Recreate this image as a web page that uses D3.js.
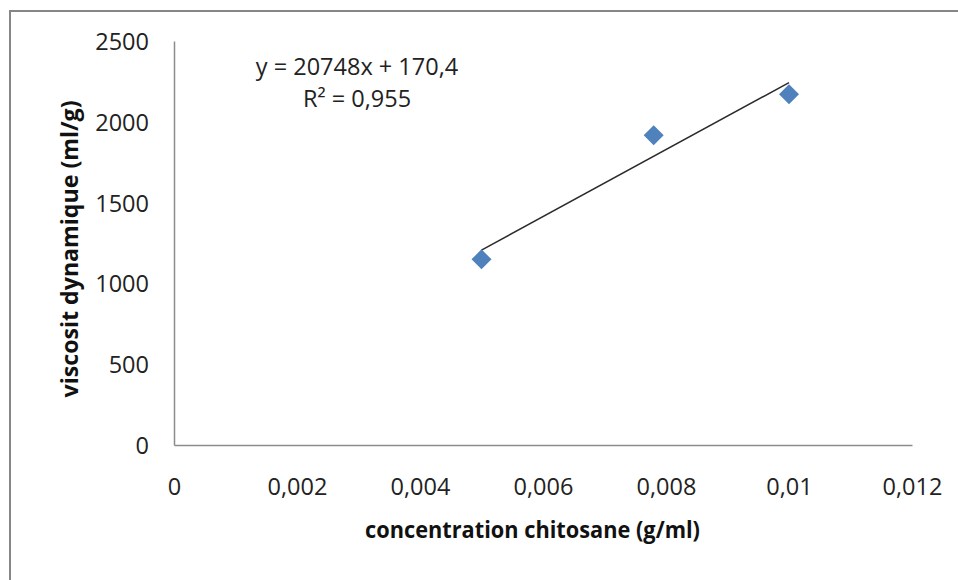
<!DOCTYPE html>
<html>
<head>
<meta charset="utf-8">
<script src="https://cdn.jsdelivr.net/npm/d3@7"></script>
<style>
  body { margin: 0; background: #fff; }
  svg { display: block; font-family: "Open Sans", sans-serif; }
</style>
</head>
<body>
<svg id="chart" width="958" height="580"></svg>
<script>
// values
const concentration = [0.005, 0.0078, 0.01];
const viscosity = [1149, 1916, 2170];
const xTicks = [0, 0.002, 0.004, 0.006, 0.008, 0.01, 0.012];
const xTickLabels = ["0", "0,002", "0,004", "0,006", "0,008", "0,01", "0,012"];
const yTicks = [0, 500, 1000, 1500, 2000, 2500];
const yTickLabels = ["0", "500", "1000", "1500", "2000", "2500"];
const equationText = "y = 20748x + 170,4";
const r2Text = "R² = 0,955";
const xTitle = "concentration chitosane (g/ml)";
const yTitle = "viscosit dynamique (ml/g)";

const svg = d3.select("#chart");
const plot = { left: 174, right: 912, top: 41, bottom: 445 };

const x = d3.scaleLinear().domain([0, 0.012]).range([plot.left, plot.right]);
const y = d3.scaleLinear().domain([0, 2500]).range([plot.bottom, plot.top]);

// outer chart border (runs off the right and bottom of the picture)
svg.append("rect")
    .attr("x", 10).attr("y", 11)
    .attr("width", 1000).attr("height", 600)
    .attr("fill", "none")
    .attr("stroke", "#868686")
    .attr("stroke-width", 2);

// axes: plain gray lines, no tick marks
const xAxis = svg.append("g")
    .attr("transform", "translate(0," + plot.bottom + ")")
    .call(d3.axisBottom(x).tickValues(xTicks).tickSize(0)
        .tickFormat((d, i) => xTickLabels[i]));
xAxis.select(".domain").attr("stroke", "#8c8c8c").attr("stroke-width", 1.5);
xAxis.selectAll("text")
    .attr("dy", null).attr("y", 50)
    .attr("fill", "#222").attr("font-size", 23.5).attr("font-family", "Open Sans");

const yAxis = svg.append("g")
    .attr("transform", "translate(" + plot.left + ",0)")
    .call(d3.axisLeft(y).tickValues(yTicks).tickSize(0)
        .tickFormat((d, i) => yTickLabels[i]));
yAxis.select(".domain").attr("stroke", "#8c8c8c").attr("stroke-width", 1.5);
yAxis.selectAll("text")
    .attr("x", -25).attr("dy", "0.36em")
    .attr("fill", "#222").attr("font-size", 23.5).attr("font-family", "Open Sans");

// linear trendline (least squares over the points)
const mx = d3.mean(concentration), my = d3.mean(viscosity);
const sxy = d3.sum(concentration, (c, i) => (c - mx) * (viscosity[i] - my));
const sxx = d3.sum(concentration, c => (c - mx) * (c - mx));
const slope = sxy / sxx;
const intercept = my - slope * mx;
const xExt = d3.extent(concentration);

svg.append("line")
    .attr("x1", x(xExt[0])).attr("y1", y(slope * xExt[0] + intercept))
    .attr("x2", x(xExt[1])).attr("y2", y(slope * xExt[1] + intercept))
    .attr("stroke", "#2b2b2b")
    .attr("stroke-width", 1.5);

// diamond markers
svg.selectAll("path.point")
    .data(concentration)
    .enter()
    .append("path")
    .attr("class", "point")
    .attr("d", d3.symbol().type(d3.symbolSquare).size(200))
    .attr("transform", (d, i) => "translate(" + x(d) + "," + y(viscosity[i]) + ") rotate(45)")
    .attr("fill", "#4f81bd");

// trendline label
svg.append("text")
    .attr("x", 357).attr("y", 75)
    .attr("text-anchor", "middle")
    .attr("font-size", 23.5).attr("fill", "#222")
    .text(equationText);
svg.append("text")
    .attr("x", 357).attr("y", 107)
    .attr("text-anchor", "middle")
    .attr("font-size", 23.5).attr("fill", "#222")
    .text(r2Text);

// axis titles
svg.append("text")
    .attr("x", 532.5).attr("y", 538)
    .attr("text-anchor", "middle")
    .attr("font-weight", "bold").attr("font-size", 23).attr("fill", "#111")
    .attr("textLength", 335).attr("lengthAdjust", "spacingAndGlyphs")
    .text(xTitle);

svg.append("text")
    .attr("transform", "translate(78,249) rotate(-90)")
    .attr("text-anchor", "middle")
    .attr("font-weight", "bold").attr("font-size", 23).attr("fill", "#111")
    .attr("textLength", 297).attr("lengthAdjust", "spacingAndGlyphs")
    .text(yTitle);
</script>
</body>
</html>
